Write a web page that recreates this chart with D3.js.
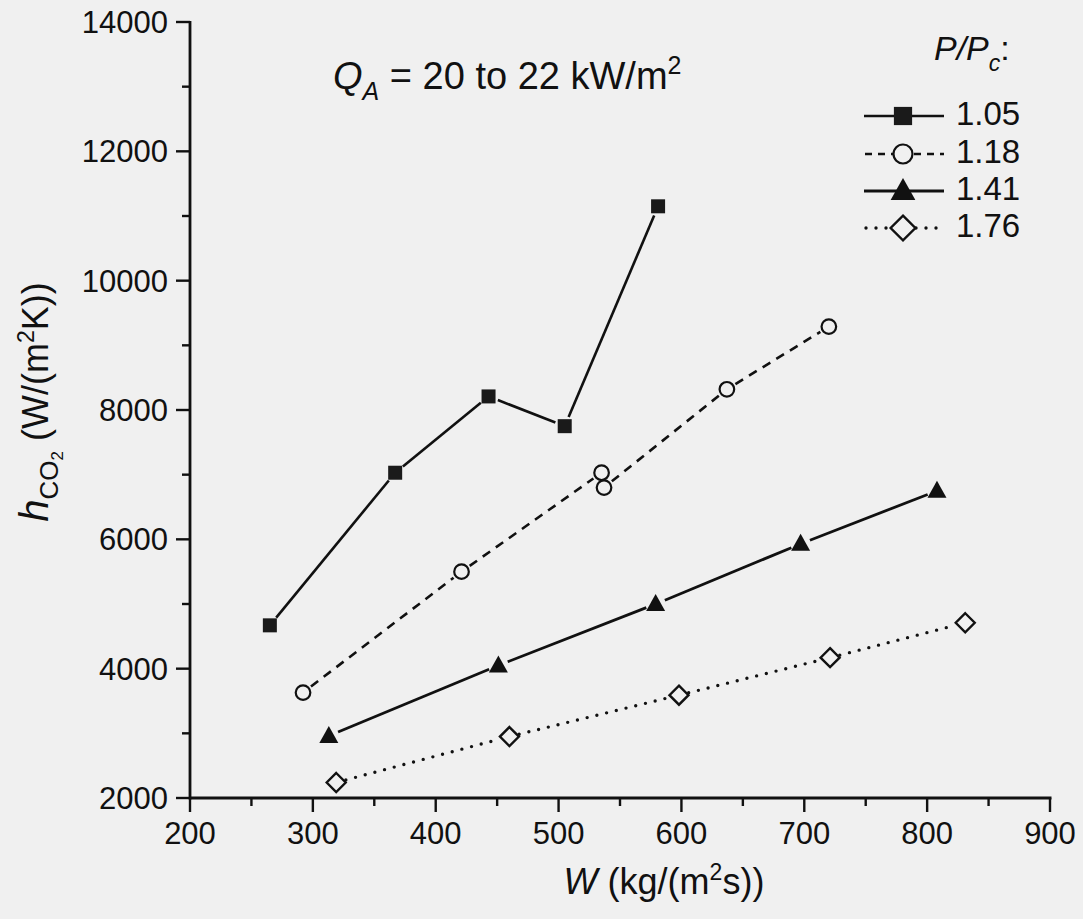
<!DOCTYPE html>
<html><head><meta charset="utf-8">
<script src="https://cdn.jsdelivr.net/npm/d3@7"></script>
<style>
html,body{margin:0;padding:0;background:#f0f0f0;}
svg{display:block;font-family:"Liberation Sans",Arial,Helvetica,sans-serif;}
</style></head><body>
<svg id="c" width="1083" height="919"></svg>
<script>
// ---- data ----
const seriesNames = ["1.05", "1.18", "1.41", "1.76"];
const x105 = [265, 367, 443, 505, 581];
const y105 = [4670, 7030, 8210, 7750, 11150];
const x118 = [292, 421, 535, 537, 637, 720];
const y118 = [3630, 5500, 7030, 6800, 8320, 9290];
const x141 = [313, 451, 579, 697, 808];
const y141 = [2960, 4050, 5000, 5930, 6750];
const x176 = [319, 460, 598, 721, 831];
const y176 = [2240, 2950, 3590, 4170, 4710];
const xTicks = [200, 300, 400, 500, 600, 700, 800, 900];
const yTicks = [2000, 4000, 6000, 8000, 10000, 12000, 14000];

const svg = d3.select("#c");
const W = 1083, H = 919;
svg.append("rect").attr("width", W).attr("height", H).attr("fill", "#f0f0f0");

const x = d3.scaleLinear().domain([200, 900]).range([190, 1050]);
const y = d3.scaleLinear().domain([2000, 14000]).range([798, 22]);

const styles = [
  {sym: "square", dash: null, w: 2.6, cap: "butt"},
  {sym: "circle", dash: "9,7", w: 2.6, cap: "butt"},
  {sym: "triangle", dash: null, w: 2.8, cap: "butt"},
  {sym: "diamond", dash: "0,10", w: 3.4, cap: "round"}
];
const data = [
  d3.zip(x105, y105), d3.zip(x118, y118), d3.zip(x141, y141), d3.zip(x176, y176)
];

function marker(g, type, cx, cy, s) {
  s = s || 1;
  if (type === "square") {
    g.append("rect").attr("x", cx - 7 * s).attr("y", cy - 7 * s).attr("width", 14 * s).attr("height", 14 * s)
      .attr("fill", "#1a1a1a");
  } else if (type === "circle") {
    g.append("circle").attr("cx", cx).attr("cy", cy).attr("r", 7.3 * s)
      .attr("fill", "#f0f0f0").attr("stroke", "#111").attr("stroke-width", 2.2);
  } else if (type === "triangle") {
    g.append("path").attr("d", `M${cx},${cy - 10 * s}L${cx + 9.5 * s},${cy + 7 * s}L${cx - 9.5 * s},${cy + 7 * s}Z`)
      .attr("fill", "#111");
  } else if (type === "diamond") {
    g.append("path").attr("d", `M${cx},${cy - 9.5 * s}L${cx + 9.5 * s},${cy}L${cx},${cy + 9.5 * s}L${cx - 9.5 * s},${cy}Z`)
      .attr("fill", "#f0f0f0").attr("stroke", "#111").attr("stroke-width", 2.4);
  }
}

function segment(g, st, x1, y1, x2, y2, gap1, gap2, dash) {
  const dx = x2 - x1, dy = y2 - y1, L = Math.hypot(dx, dy);
  if (L <= gap1 + gap2) return;
  const ux = dx / L, uy = dy / L;
  const l = g.append("line")
    .attr("x1", x1 + ux * gap1).attr("y1", y1 + uy * gap1)
    .attr("x2", x2 - ux * gap2).attr("y2", y2 - uy * gap2)
    .attr("stroke", "#111").attr("stroke-width", st.w).attr("stroke-linecap", st.cap);
  const d = dash || st.dash;
  if (d) l.attr("stroke-dasharray", d);
}

// ---- series ----
data.forEach((pts, i) => {
  const st = styles[i];
  const g = svg.append("g");
  const gap = 10;
  for (let k = 0; k < pts.length - 1; k++) {
    segment(g, st, x(pts[k][0]), y(pts[k][1]), x(pts[k + 1][0]), y(pts[k + 1][1]), gap, gap);
  }
  pts.forEach(p => marker(g, st.sym, x(p[0]), y(p[1])));
});

// ---- axes ----
const ax = svg.append("g").attr("stroke", "#111");
ax.append("line").attr("x1", 190).attr("x2", 190).attr("y1", y(14000) - 1).attr("y2", y(2000) + 1.5).attr("stroke-width", 2.8);
ax.append("line").attr("x1", 189).attr("x2", x(900) + 1.5).attr("y1", 798).attr("y2", 798).attr("stroke-width", 2.8);
d3.range(2000, 14001, 1000).forEach(v => {
  const major = v % 2000 === 0;
  ax.append("line").attr("x1", 190).attr("x2", 190 - (major ? 14 : 8))
    .attr("y1", y(v)).attr("y2", y(v)).attr("stroke-width", 2.4);
});
d3.range(200, 901, 50).forEach(v => {
  const major = v % 100 === 0;
  ax.append("line").attr("x1", x(v)).attr("x2", x(v))
    .attr("y1", 798).attr("y2", 798 + (major ? 14 : 8)).attr("stroke-width", 2.4);
});
svg.append("g").selectAll("text").data(yTicks).join("text")
  .attr("x", 168).attr("y", d => y(d)).attr("dy", "0.36em")
  .attr("text-anchor", "end").attr("font-size", 31).attr("fill", "#111")
  .text(d => d);
svg.append("g").selectAll("text").data(xTicks).join("text")
  .attr("x", d => x(d)).attr("y", 844)
  .attr("text-anchor", "middle").attr("font-size", 31).attr("fill", "#111")
  .text(d => d);

// ---- axis titles ----
const xt = svg.append("text").attr("x", 664).attr("y", 894).attr("text-anchor", "middle")
  .attr("font-size", 36).attr("fill", "#111");
xt.append("tspan").attr("font-style", "italic").text("W");
xt.append("tspan").text(" (kg/(m");
xt.append("tspan").attr("font-size", 23).attr("dy", -14).text("2");
xt.append("tspan").attr("dy", 14).text("s))");

const yt = svg.append("text").attr("transform", "translate(48,402) rotate(-90)")
  .attr("text-anchor", "middle").attr("font-size", 36).attr("fill", "#111");
yt.append("tspan").attr("font-style", "italic").attr("font-size", 40).text("h");
yt.append("tspan").attr("font-size", 26).attr("dy", 10).text("CO");
yt.append("tspan").attr("font-size", 17).attr("dy", 5).text("2");
yt.append("tspan").attr("dy", -15).text(" (W/(m");
yt.append("tspan").attr("font-size", 23).attr("dy", -14).text("2");
yt.append("tspan").attr("dy", 14).text("K))");

// ---- annotation ----
const qt = svg.append("text").attr("x", 333).attr("y", 89).attr("font-size", 38).attr("fill", "#111");
qt.append("tspan").attr("font-style", "italic").text("Q");
qt.append("tspan").attr("font-style", "italic").attr("font-size", 25).attr("dy", 11).text("A");
qt.append("tspan").attr("dy", -11).text(" = 20 to 22 kW/m");
qt.append("tspan").attr("font-size", 25).attr("dy", -15).text("2");

// ---- legend ----
const lt = svg.append("text").attr("x", 934).attr("y", 60).attr("font-size", 34).attr("fill", "#111");
lt.append("tspan").attr("font-style", "italic").text("P/P");
lt.append("tspan").attr("font-style", "italic").attr("font-size", 23).attr("dy", 11).text("c");
lt.append("tspan").attr("dy", -11).text(":");

const legY = [116, 154, 191, 228];
seriesNames.forEach((name, i) => {
  const st = styles[i];
  const g = svg.append("g");
  const yy = legY[i];
  if (i === 3) {
    segment(g, st, 866, yy, 893, yy, 0, 0);
    segment(g, st, 916, yy, 944, yy, 0, 0);
  } else if (i === 1) {
    segment(g, st, 865, yy, 893, yy, 0, 0, "7,6");
    segment(g, st, 914, yy, 944, yy, 0, 0, "7,6");
  } else {
    segment(g, st, 864, yy, 944, yy, 0, 0);
  }
  marker(g, st.sym, 903, yy, 1.3);
  g.append("text").attr("x", 956).attr("y", yy + 9)
    .attr("font-size", 33).attr("fill", "#111").text(name);
});
</script>
</body></html>
